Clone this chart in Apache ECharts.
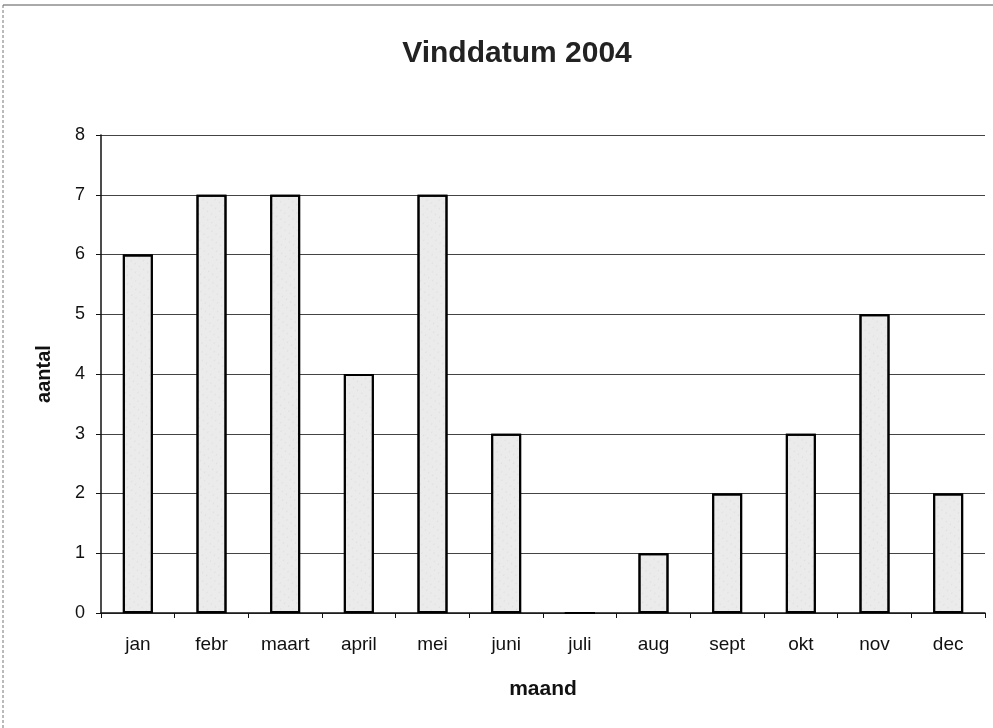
<!DOCTYPE html>
<html><head><meta charset="utf-8">
<script src="https://cdn.jsdelivr.net/npm/echarts@6/dist/echarts.min.js"></script>
<style>html,body{margin:0;padding:0;background:#fff}#c{width:993px;height:728px}</style>
</head><body><div id="c"></div>
<script>
const months = ['jan','febr','maart','april','mei','juni','juli','aug','sept','okt','nov','dec'];
const aantal = [6,7,7,4,7,3,0,1,2,3,5,2];
const yTicks = [0,1,2,3,4,5,6,7,8];
const titleText = 'Vinddatum 2004';

const chart = echarts.init(document.getElementById('c'));
const font = 'Liberation Sans, Arial, sans-serif';
chart.setOption({
  backgroundColor: '#fff',
  animation: false,
  title: {
    text: titleText, left: 512, textAlign: 'center', top: 34,
    textStyle: {fontFamily: font, fontSize: 30, fontWeight: 'bold', color: '#222'}
  },
  graphic: [
    {type: 'line', shape: {x1: 3, y1: 5, x2: 993, y2: 5}, style: {stroke: '#555', lineWidth: 1}},
    {type: 'line', shape: {x1: 3, y1: 5, x2: 3, y2: 728}, style: {stroke: '#777', lineWidth: 1, lineDash: [3, 2]}}
  ],
  grid: {left: 101, right: 8, top: 135, bottom: 115},
  xAxis: {
    type: 'category', data: months,
    name: 'maand', nameLocation: 'middle', nameGap: 66,
    nameTextStyle: {fontFamily: font, fontSize: 21, fontWeight: 'bold', color: '#111'},
    axisLine: {lineStyle: {color: '#111', width: 1.5}},
    axisTick: {show: true, alignWithLabel: false, length: 5, lineStyle: {color: '#111'}},
    axisLabel: {fontFamily: font, fontSize: 19, color: '#111', margin: 22}
  },
  yAxis: {
    type: 'value', min: yTicks[0], max: yTicks[yTicks.length - 1], interval: 1,
    name: 'aantal', nameLocation: 'middle', nameGap: 47,
    nameTextStyle: {fontFamily: font, fontSize: 20, fontWeight: 'bold', color: '#111'},
    axisLine: {show: true, lineStyle: {color: '#111', width: 1.5}},
    axisTick: {show: true, length: 5, lineStyle: {color: '#111'}},
    axisLabel: {fontFamily: font, fontSize: 18, color: '#111', margin: 16},
    splitLine: {show: true, lineStyle: {color: '#444', width: 1}}
  },
  series: [{
    type: 'bar', data: aantal, barWidth: 30,
    itemStyle: {
      color: '#ebebeb', borderColor: '#000', borderWidth: 2,
      decal: {symbol: 'circle', symbolSize: 0.6, color: 'rgba(0,0,0,0.4)',
              dashArrayX: [1, 4], dashArrayY: [2, 5], rotation: 0.6}
    }
  }]
});
</script></body></html>
